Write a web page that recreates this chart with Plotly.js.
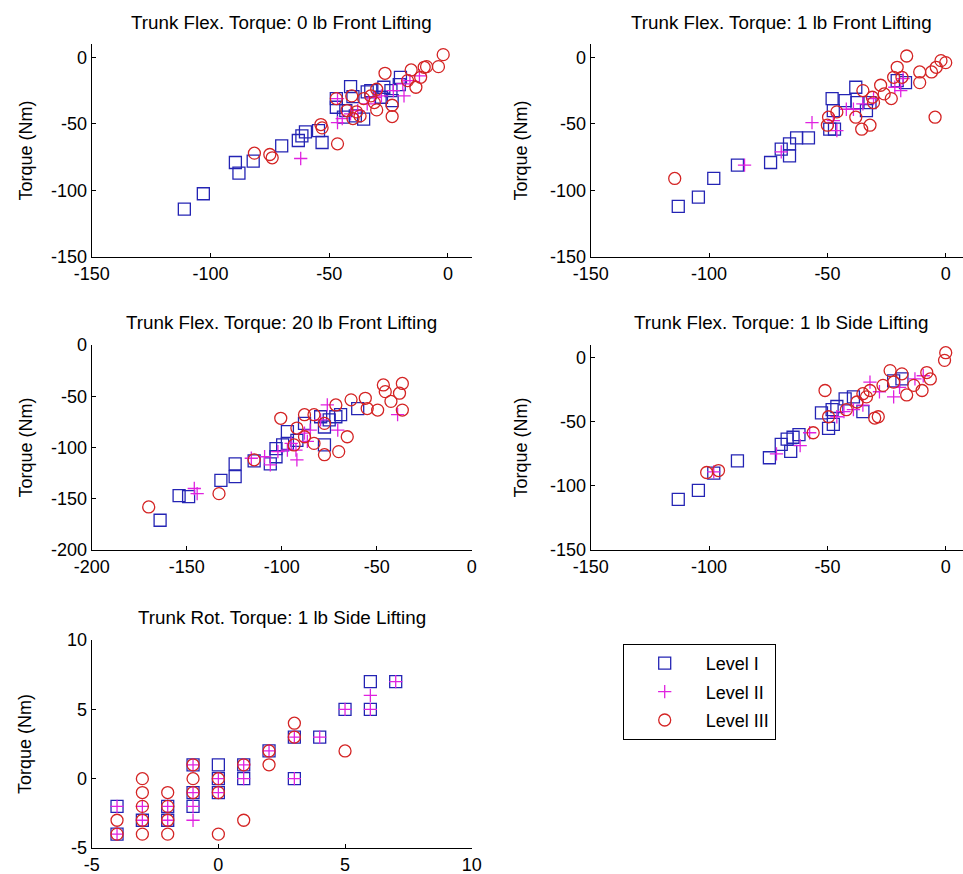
<!DOCTYPE html>
<html>
<head>
<meta charset="utf-8">
<script src="https://cdn.plot.ly/plotly-3.0.1.min.js"></script>
<style>html,body{margin:0;padding:0;background:#fff;}#chart{width:963px;height:874px;}</style>
</head>
<body>
<div id="chart"></div>
<script>
// ---------- Data ----------
var levelNames = ["Level I", "Level II", "Level III"];
var panelTitles = [
  "Trunk Flex. Torque: 0 lb Front Lifting",
  "Trunk Flex. Torque: 1 lb Front Lifting",
  "Trunk Flex. Torque: 20 lb Front Lifting",
  "Trunk Flex. Torque: 1 lb Side Lifting",
  "Trunk Rot. Torque: 1 lb Side Lifting"
];
var yLabel = "Torque (Nm)";

// tick values (labels are written with a plain hyphen, as in the reference)
var ticks150 = [-150, -100, -50, 0];
var ticks200 = [-200, -150, -100, -50, 0];
var ticksRot = [-5, 0, 5, 10];

// Panel 1: 0 lb front lifting
var p1L1x = [-111,-103,-88,-89.5,-82,-70,-63,-61.5,-60,-54.5,-53,-47,-47,-41,-40,-35.5,-34,-32.5,-24,-23.5,-20,-20.5,-44,-43,-39,-28,-27];
var p1L1y = [-114,-102.5,-87,-79,-78,-66.5,-62.5,-59,-56,-55,-64,-31,-37.5,-22,-29.5,-46.5,-26,-25,-25,-32.5,-15,-20.5,-45,-40,-44,-30,-22.5];
var p1L2x = [-62,-46.5,-44.5,-38,-34,-31,-28,-23,-19,-16,-12,-46.5,-41,-18.5];
var p1L2y = [-76,-49,-46,-40,-35,-30,-29,-25,-20,-17.5,-14,-31,-42.5,-29];
var p1L3x = [-81.5,-75,-74,-53.5,-53,-46.5,-47,-40.5,-42.5,-40,-37,-38.5,-32.5,-30,-30,-26.5,-23.5,-23.5,-15.5,-13.5,-10,-9,-4,-2,-11.5,-17,-35.5,-31];
var p1L3y = [-72,-73,-75.5,-50.5,-53,-65,-31,-29,-40,-46,-44,-41,-29,-24,-39.5,-12,-44.5,-36,-9.5,-22.5,-7.5,-7,-7,2,-15,-17.5,-31,-34];

// Panel 2: 1 lb front lifting
var p2L1x = [-113,-104.5,-98,-88,-74,-69.5,-66,-66,-63,-58,-48,-49,-47,-47.5,-42.5,-38,-33.5,-32,-20.5,-17,-37.5];
var p2L1y = [-112,-105,-91,-81,-79,-69,-74,-65,-60.5,-60.5,-31,-54,-54,-40,-32.5,-22.5,-40,-34,-17.5,-19,-34];
var p2L2x = [-85,-69.5,-56.5,-46,-47.5,-42,-39,-35,-30.5,-21.5,-18,-19];
var p2L2y = [-81,-71,-49,-55,-47.5,-39,-39,-35,-31,-22.5,-16,-25];
var p2L3x = [-114.5,-49.5,-50,-46,-38,-35.5,-32,-35,-31,-27.5,-26,-23,-20.5,-16.5,-18.5,-11,-11,-6,-4,-2,0,-4.5,-30.5,-22];
var p2L3y = [-91,-45,-51,-41,-45,-54,-51,-25,-30,-21,-27.5,-31,-7.5,1,-15,-11,-19,-11,-7.5,-2.5,-4,-45,-34,-15];

// Panel 3: 20 lb front lifting
var p3L1x = [-164,-154,-149,-132,-124.5,-124.5,-114.5,-106,-103,-103,-97,-97,-88,-77.5,-77.5,-75,-71.5,-69,-60,-79.5,-92,-99.5];
var p3L1y = [-171,-147,-148,-132,-128.5,-116,-113,-116,-109,-101,-96,-84.5,-76.5,-97.5,-80,-73,-70,-68,-62,-70,-93,-97.5];
var p3L2x = [-146,-144.5,-116,-109,-106,-102,-97,-92,-92.5,-88,-85,-79.5,-76,-70.5,-39,-86.5,-95];
var p3L2y = [-140,-145,-110.5,-109,-117,-104,-102.5,-112,-102.5,-86,-83,-73,-58.5,-83,-68,-94,-96];
var p3L3x = [-170,-133,-114.5,-100.5,-88,-83,-77.5,-70,-65.5,-71.5,-63.5,-56,-55,-49.5,-46.5,-45.5,-36.5,-38,-42.5,-36.5,-88,-83,-77.5,-93.5,-92];
var p3L3y = [-158,-145,-112,-71.5,-68,-68,-107,-104,-89.5,-58.5,-53.5,-52,-62,-63.5,-39,-45.5,-37.5,-47,-55,-63.5,-89.5,-96,-76.5,-97.5,-81];

// Panel 4: 1 lb side lifting (flexion)
var p4L1x = [-113,-104.5,-98,-88,-74.5,-69.5,-67,-65.5,-64.5,-62,-52.5,-49.5,-47.5,-48,-46,-42.5,-39,-35,-22,-18.5];
var p4L1y = [-110.5,-103.5,-90,-80.5,-78,-67.5,-63.5,-73,-62,-60,-43,-55,-52,-40.5,-38,-32,-30.5,-42,-18,-16.5];
var p4L2x = [-98,-71.5,-61.5,-57.5,-46,-43,-39,-35,-32,-28,-22,-13,-9.5,-19.5];
var p4L2y = [-89,-75,-68.5,-58.5,-46,-42,-40.5,-37,-19,-26.5,-30.5,-16.5,-14,-23];
var p4L3x = [-101,-96,-56,-51,-49.5,-42,-37.5,-35,-30,-28.5,-23.5,-26.5,-22,-18.5,-16.5,-13.5,-10,-8,-6.5,0,-0.5,-33.5,-32];
var p4L3y = [-89.5,-88,-58.5,-25.5,-46,-40.5,-34.5,-28,-47,-46,-10,-21.5,-19,-12.5,-29,-21.5,-25.5,-11.5,-16.5,4,-2,-30.5,-25.5];

// Panel 5: rotation torque, 1 lb side lifting
var p5L1x = [-4,-4,-3,-2,-2,-1,-1,-1,0,0,0,1,1,2,3,3,4,5,6,6,7];
var p5L1y = [-2,-4,-3,-2,-3,-2,-1,1,1,0,-1,0,1,2,3,0,3,5,7,5,7];
var p5L2x = [-4,-4,-3,-3,-2,-2,-1,-1,-1,-1,0,0,1,1,2,3,3,4,5,6,6,7];
var p5L2y = [-2,-4,-2,-3,-2,-3,-3,-1,1,-2,0,-1,1,0,2,3,0,3,5,5,6,7];
var p5L3x = [-4,-4,-3,-3,-3,-3,-3,-2,-2,-2,-2,-1,-1,-1,0,0,0,1,1,2,2,3,3,5];
var p5L3y = [-3,-4,0,-1,-2,-3,-4,-1,-2,-3,-4,1,0,-1,0,-1,-4,1,-3,2,1,3,4,2];

// ---------- Styling ----------
var colors = ["#2424b4", "#e022e0", "#d42424"];
var symbols = ["square-open", "cross-thin-open", "circle-open"];
var sizes = [12, 9.5, 12];
var FONT = "Liberation Sans, Arial, sans-serif";

var panels = [
  [p1L1x,p1L1y,p1L2x,p1L2y,p1L3x,p1L3y],
  [p2L1x,p2L1y,p2L2x,p2L2y,p2L3x,p2L3y],
  [p3L1x,p3L1y,p3L2x,p3L2y,p3L3x,p3L3y],
  [p4L1x,p4L1y,p4L2x,p4L2y,p4L3x,p4L3y],
  [p5L1x,p5L1y,p5L2x,p5L2y,p5L3x,p5L3y]
];

var traces = [];
panels.forEach(function (p, i) {
  var sfx = i === 0 ? "" : String(i + 1);
  for (var k = 0; k < 3; k++) {
    traces.push({
      type: "scatter", mode: "markers",
      x: p[2 * k], y: p[2 * k + 1],
      name: levelNames[k],
      legendgroup: levelNames[k],
      showlegend: i === 0,
      xaxis: "x" + sfx, yaxis: "y" + sfx,
      marker: { symbol: symbols[k], size: sizes[k], color: colors[k],
                line: { color: colors[k], width: 1.3 } },
      hoverinfo: "x+y+name"
    });
  }
});

var W = 963, H = 874;
function dx(a, b) { return [a / W, Math.min(b / W, 1)]; }
function dy(top, bot) { return [1 - bot / H, 1 - top / H]; }

var tickFont = { family: FONT, size: 18, color: "#000" };
function ax(domain, range, tv, anchor) {
  return {
    domain: domain, range: range, anchor: anchor,
    tickmode: "array", tickvals: tv, ticktext: tv.map(String),
    showline: true, linecolor: "#000", linewidth: 1, mirror: false,
    ticks: "inside", ticklen: 4, tickcolor: "#000", tickwidth: 1,
    showgrid: false, zeroline: false, tickfont: tickFont, fixedrange: true
  };
}

var col1 = dx(91.7, 471.7), col2 = dx(590.7, 963);
var row1 = dy(44, 257), row2 = dy(345, 550), row3 = dy(640, 848);

var layout = {
  width: W, height: H,
  margin: { l: 0, r: 0, t: 0, b: 0 },
  paper_bgcolor: "#fff", plot_bgcolor: "#fff",
  font: { family: FONT, color: "#000" },
  showlegend: true,
  legend: {
    x: 622.7 / W, y: 1 - 644 / H, xanchor: "left", yanchor: "top",
    bgcolor: "#fff", bordercolor: "#000", borderwidth: 1,
    font: { family: FONT, size: 18, color: "#000" },
    itemwidth: 72, tracegroupgap: 2
  },
  xaxis: ax(col1, [-150, 10], ticks150, "y"),
  yaxis: ax(row1, [-150, 10], ticks150, "x"),
  xaxis2: ax(col2, [-150, 7.3], ticks150, "y2"),
  yaxis2: ax(row1, [-150, 10], ticks150, "x2"),
  xaxis3: ax(col1, [-200, 0], ticks200, "y3"),
  yaxis3: ax(row2, [-200, 0], ticks200, "x3"),
  xaxis4: ax(col2, [-150, 7.3], ticks150, "y4"),
  yaxis4: ax(row2, [-150, 10], ticks150, "x4"),
  xaxis5: ax(col1, [-5, 10], ticksRot, "y5"),
  yaxis5: ax(row3, [-5, 10], ticksRot, "x5"),
  annotations: []
};

var titleFont = { family: FONT, size: 18.8, color: "#000" };
var labelFont = { family: FONT, size: 18, color: "#000" };
var titlePos = [[281.7, 22], [781, 22], [281.7, 322], [781, 322], [281.7, 617]];
panelTitles.forEach(function (t, i) {
  layout.annotations.push({
    text: t, xref: "paper", yref: "paper",
    x: titlePos[i][0] / W, y: 1 - titlePos[i][1] / H,
    xanchor: "center", yanchor: "middle", showarrow: false, font: titleFont
  });
});
var ylabPos = [[25, 150.5], [520, 150.5], [25, 447.5], [520, 447.5], [25, 744]];
ylabPos.forEach(function (p) {
  layout.annotations.push({
    text: yLabel, xref: "paper", yref: "paper",
    x: p[0] / W, y: 1 - p[1] / H, textangle: -90,
    xanchor: "center", yanchor: "middle", showarrow: false, font: labelFont
  });
});

Plotly.newPlot("chart", traces, layout, { displayModeBar: false, staticPlot: true });
</script>
</body>
</html>
